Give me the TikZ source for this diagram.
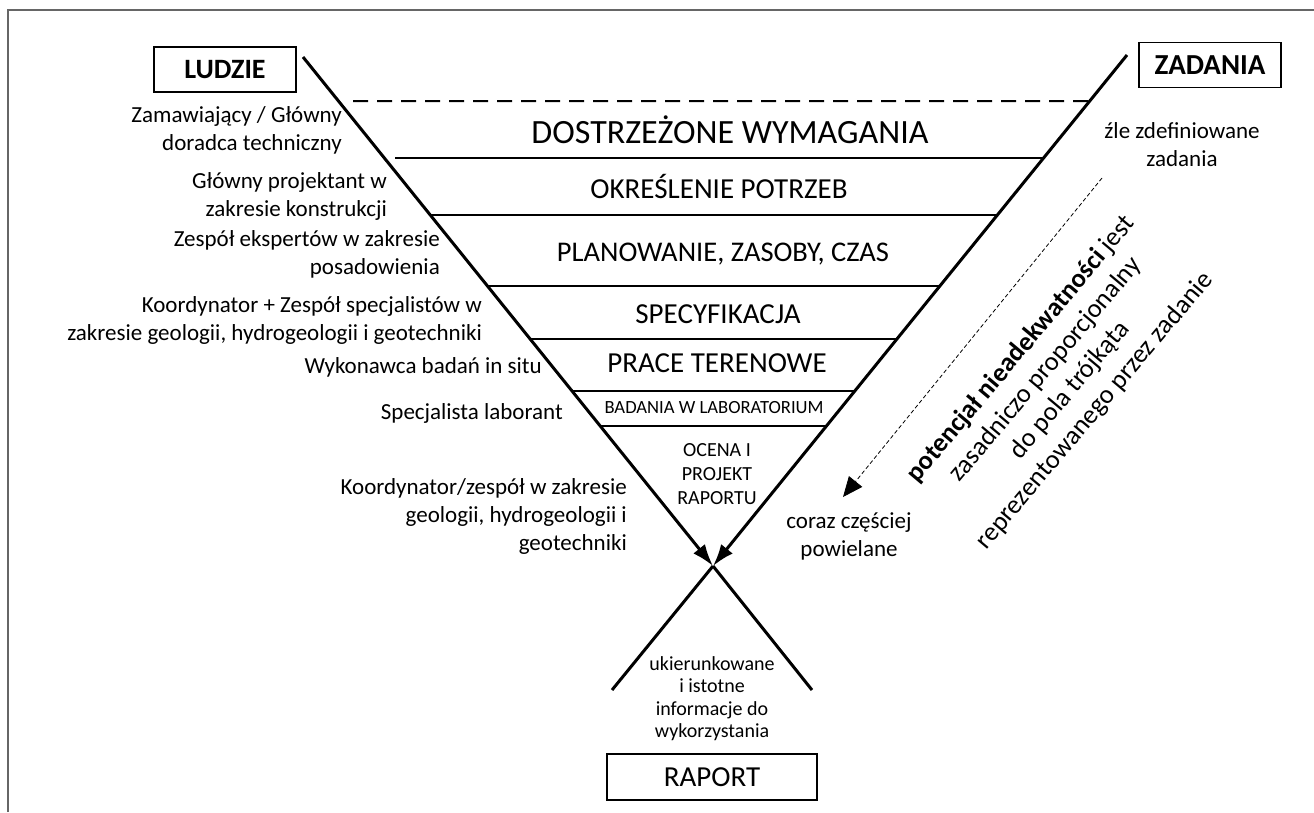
\documentclass[tikz,border=0pt]{standalone}
\usepackage{fontspec}
\setmainfont{Carlito}
\usetikzlibrary{calc}
\usetikzlibrary{positioning}
\usetikzlibrary{arrows.meta}

\begin{document}
\begin{tikzpicture}[x=1pt, y=-1pt,
    stage/.style={inner sep=0pt, anchor=base},
    people/.style={align=right, inner sep=0pt, anchor=east, font=\fontsize{23}{28}\selectfont},
    note/.style={align=center, inner sep=0pt, font=\fontsize{23}{28}\selectfont},
    heading/.style={draw, line width=1.2pt, minimum width=142pt, minimum height=45pt, inner sep=0pt},
    funnel/.style={line width=3pt},
    divider/.style={line width=1.6pt}]

  \useasboundingbox (0,0) rectangle (1314,812);
  \draw [black!60, line width=1.5pt] (8,812) -- (8,10) -- (1314,10);

  % the funnel
  \coordinate (ltop) at (303,57);
  \coordinate (rtop) at (1127,55);
  \coordinate (cross) at (713,566);
  \coordinate (lbot) at (812,690);
  \coordinate (rbot) at (612,690);

  \draw [funnel, -{Latex[length=22pt, width=15pt]}] (ltop) -- (cross);
  \draw [funnel, -{Latex[length=22pt, width=15pt]}] (rtop) -- (cross);
  \draw [funnel] (cross) -- (lbot);
  \draw [funnel] (cross) -- (rbot);

  \draw [divider, line width=2pt, dash pattern=on 15pt off 9pt]
    (353,101) -- ($(rtop)!{(101-55)/511}!(cross)$);
  \draw [divider] (395,158) -- ($(rtop)!{(158-55)/511}!(cross)$);
  \foreach \y in {215,286,339,391,426}
    \draw [divider] ($(ltop)!{(\y-57)/509}!(cross)$) -- ($(rtop)!{(\y-55)/511}!(cross)$);

  \node [stage, font=\fontsize{34}{40}\selectfont] (req) at (730,143) {DOSTRZEŻONE WYMAGANIA};
  \node [stage, font=\fontsize{29}{34}\selectfont] (needs) at (719,198) {OKREŚLENIE POTRZEB};
  \node [stage, font=\fontsize{28.5}{34}\selectfont] (plan) at (723,261) {PLANOWANIE, ZASOBY, CZAS};
  \node [stage, font=\fontsize{29}{34}\selectfont] (spec) at (718,323) {SPECYFIKACJA};
  \node [stage, font=\fontsize{29}{34}\selectfont] (field) at (717,372) {PRACE TERENOWE};
  \node [stage, font=\fontsize{18.6}{22}\selectfont] (lab) at (714,413) {BADANIA W LABORATORIUM};
  \node [align=center, inner sep=0pt, font=\fontsize{20}{24}\selectfont] (eval) at (717,474)
    {OCENA I\\PROJEKT\\RAPORTU};

  % people
  \node [heading, font=\fontsize{28}{34}\selectfont\bfseries] (people) at (225,69.5) {LUDZIE};
  \node [people] (client) at (342,130.5) {Zamawiający / Główny\\doradca techniczny};
  \node [people] (designer) at (387,196) {Główny projektant w\\zakresie konstrukcji};
  \node [people] (experts) at (440,254) {Zespół ekspertów w zakresie\\posadowienia};
  \node [people] (coord) at (482,320.5)
    {Koordynator + Zespół specjalistów w\\zakresie geologii, hydrogeologii i geotechniki};
  \node [people] (contractor) at (542,367) {Wykonawca badań in situ};
  \node [people] (labspec) at (563,413) {Specjalista laborant};
  \node [people] (team) at (627,516) {Koordynator/zespół w zakresie\\geologii, hydrogeologii i\\geotechniki};

  % tasks
  \node [heading, font=\fontsize{29}{34}\selectfont\bfseries] (tasks) at (1210,65) {ZADANIA};
  \node [note] (illdef) at (1182,145) {źle zdefiniowane\\zadania};

  \coordinate (dstart) at (1102,178);
  \coordinate (dtip) at (843,497);
  \draw [line width=0.8pt, dash pattern=on 4pt off 2.5pt, -{Triangle[length=20pt, width=17pt]}] (dstart) -- (dtip);
  \node [note] (dup) at (849,536) {coraz częściej\\powielane};

  \node [note, rotate=50, font=\fontsize{26.5}{32}\selectfont] (claim) at (1058,380)
    {\textbf{potencjał nieadekwatności} jest\\zasadniczo proporcjonalny\\do pola trójkąta\\reprezentowanego przez zadanie};

  % report
  \node [heading, minimum width=210pt, minimum height=46pt, font=\fontsize{29}{34}\selectfont] (report) at (712,777) {RAPORT};
  \node [note, font=\fontsize{20}{22.5}\selectfont, above=12pt of report] (useful)
    {ukierunkowane\\i istotne\\informacje do\\wykorzystania};

\end{tikzpicture}
\end{document}
